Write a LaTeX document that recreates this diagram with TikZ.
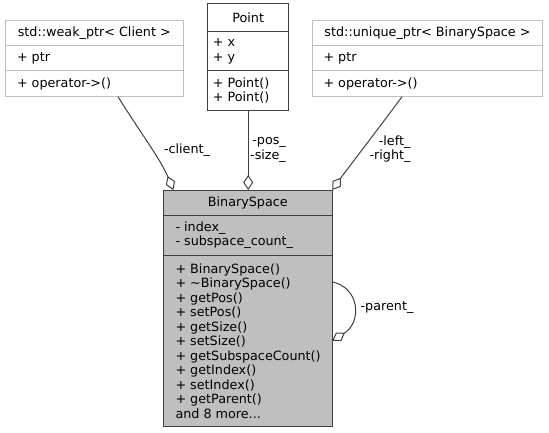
\documentclass[tikz,border=0pt]{standalone}
\usepackage{fontspec}
\setmainfont{DejaVu Sans}
\usetikzlibrary{positioning,arrows.meta}
\definecolor{edgegrey}{HTML}{404040}
\definecolor{boxgrey}{HTML}{BFBFBF}

\begin{document}
\begin{tikzpicture}[x=1pt,y=-1pt,
	txt/.style={inner sep=0pt, font=\fontsize{12.75}{14.5}\selectfont},
	cls/.style={txt, draw=edgegrey, line width=1pt, outer sep=0pt, anchor=north},
	tmpl/.style={cls, draw=boxgrey},
	member/.style={txt, anchor=west, align=left},
	lbl/.style={txt, align=right},
	assoc/.style={draw=edgegrey, line width=1pt, -{Diamond[open,length=15pt,width=10pt]}}]

	\useasboundingbox (0,0) rectangle (549,433);

	% std::weak_ptr< Client >
	\node[tmpl, minimum width=178pt, minimum height=25.3pt] (wp1) at (94.3,20.7) {std::weak\_ptr< Client >};
	\node[tmpl, minimum width=178pt, minimum height=25pt, below=0pt of wp1] (wp2) {};
	\node[tmpl, minimum width=178pt, minimum height=25.7pt, below=0pt of wp2] (wp3) {};
	\node[member] (wpa) at ([xshift=11.5pt]wp2.west) {+ ptr};
	\node[member] (wpm) at ([xshift=11.5pt]wp3.west) {+ operator->()};

	% Point
	\node[cls, minimum width=81pt, minimum height=27.7pt] (pt1) at (248.2,4) {Point};
	\node[cls, minimum width=81pt, minimum height=39.3pt, below=0pt of pt1] (pt2) {};
	\node[cls, minimum width=81pt, minimum height=39.3pt, below=0pt of pt2] (pt3) {};
	\node[member] (pta) at ([xshift=5pt]pt2.west) {+ x\\+ y};
	\node[member] (ptm) at ([xshift=5pt]pt3.west) {+ Point()\\+ Point()};

	% std::unique_ptr< BinarySpace >
	\node[tmpl, minimum width=230.4pt, minimum height=25.3pt] (up1) at (427.5,20.7) {std::unique\_ptr< BinarySpace >};
	\node[tmpl, minimum width=230.4pt, minimum height=25pt, below=0pt of up1] (up2) {};
	\node[tmpl, minimum width=230.4pt, minimum height=25.7pt, below=0pt of up2] (up3) {};
	\node[member] (upa) at ([xshift=11pt]up2.west) {+ ptr};
	\node[member] (upm) at ([xshift=11pt]up3.west) {+ operator->()};

	% BinarySpace
	\node[cls, fill=boxgrey, minimum width=169pt, minimum height=25pt] (bs1) at (247.8,190) {BinarySpace};
	\node[cls, fill=boxgrey, minimum width=169pt, minimum height=40pt, below=0pt of bs1] (bs2) {};
	\node[cls, fill=boxgrey, minimum width=169pt, minimum height=171.7pt, below=0pt of bs2] (bs3) {};
	\node[member] (bsa) at ([xshift=12pt]bs2.west) {- index\_\\- subspace\_count\_};
	\node[member] (bsm) at ([xshift=12pt]bs3.west) {+ BinarySpace()\\+ \textasciitilde BinarySpace()\\+ getPos()\\+ setPos()\\+ getSize()\\+ setSize()\\+ getSubspaceCount()\\+ getIndex()\\+ setIndex()\\+ getParent()\\and 8 more...};

	% Associations
	\draw[assoc] ([xshift=23.7pt]wp3.south) .. controls (140,132) and (161,160) .. ([xshift=10pt]bs1.north west);
	\draw[assoc] (pt3.south) -- (pt3.south |- bs1.north);
	\draw[assoc] ([xshift=-25.5pt]up3.south) .. controls (382,124) and (345,172) .. (bs1.north east);
	\draw[assoc] ([yshift=59pt]bs3.east) .. controls (360,288) and (362,322) .. (bs3.east);

	% Labels
	\node[lbl] (lclient) at (187,150) {-client\_};
	\node[lbl] (lpos) at (268,150) {-pos\_\\-size\_};
	\node[lbl] (lleft) at (390,149) {-left\_\\-right\_};
	\node[lbl] (lparent) at (387,308) {-parent\_};

\end{tikzpicture}
\end{document}
